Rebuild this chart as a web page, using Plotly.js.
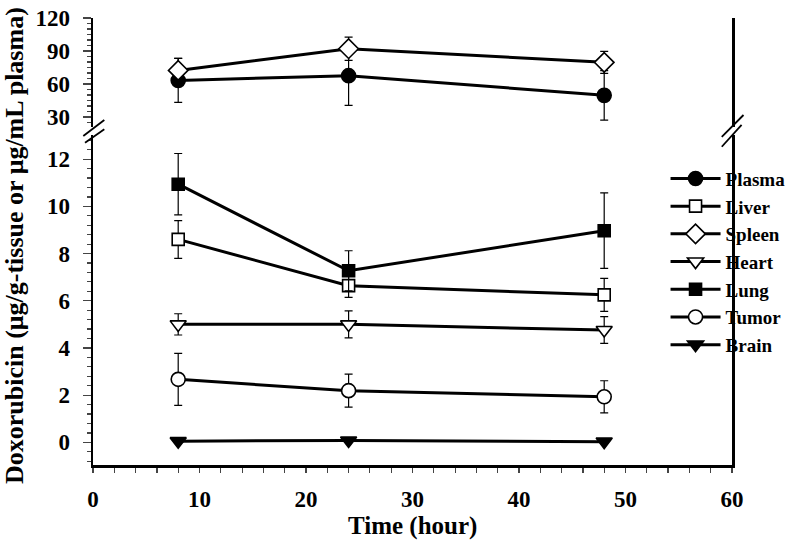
<!DOCTYPE html>
<html>
<head>
<meta charset="utf-8">
<script src="https://cdn.plot.ly/plotly-3.0.1.min.js"></script>
<style>html,body{margin:0;padding:0;background:#fff;}#chart{width:800px;height:551px;}</style>
</head>
<body>
<div id="chart"></div>
<script>
// ---- data ----
var timeHours = [8, 24, 48];
var seriesNames = ["Plasma", "Liver", "Spleen", "Heart", "Lung", "Tumor", "Brain"];
var plasma = [63.3, 67.6, 49.7];
var plasmaErr = [20, 27, 22.5];
var liver = [8.6, 6.64, 6.25];
var liverErr = [0.8, 0.5, 0.7];
var spleen = [72.4, 92.1, 79.7];
var spleenErr = [11, 10.6, 10];
var heart = [5.0, 5.0, 4.76];
var heartErr = [0.45, 0.57, 0.57];
var lung = [10.94, 7.27, 8.97];
var lungErr = [1.3, 0.85, 1.6];
var tumor = [2.67, 2.19, 1.93];
var tumorErr = [1.1, 0.7, 0.68];
var brain = [0.05, 0.08, 0.03];
var brainErr = [0.02, 0.02, 0.02];
var xTickVals = [0, 10, 20, 30, 40, 50, 60];
var upperTickVals = [30, 60, 90, 120];
var lowerTickVals = [0, 2, 4, 6, 8, 10, 12];

var FONT = "Liberation Serif, Times New Roman, serif";

function mk(name, y, err, axis, symbol, fill, size) {
  return {
    type: "scatter", mode: "lines+markers", name: name,
    x: timeHours, y: y, yaxis: axis, xaxis: "x",
    line: {color: "#000", width: 3},
    marker: {symbol: symbol, size: size, color: fill, line: {color: "#000", width: 1.6}},
    error_y: {type: "data", array: err, visible: true, color: "#000", thickness: 1.2, width: 4}
  };
}

var data = [
  mk(seriesNames[0], plasma, plasmaErr, "y2", "circle", "#000", 14),
  mk(seriesNames[1], liver, liverErr, "y", "square", "#fff", 12),
  mk(seriesNames[2], spleen, spleenErr, "y2", "diamond", "#fff", 15),
  mk(seriesNames[3], heart, heartErr, "y", "triangle-down", "#fff", 14),
  mk(seriesNames[4], lung, lungErr, "y", "square", "#000", 12),
  mk(seriesNames[5], tumor, tumorErr, "y", "circle", "#fff", 14),
  mk(seriesNames[6], brain, brainErr, "y", "triangle-down", "#000", 14)
];

var tickFont = {family: FONT, size: 23, color: "#000", weight: "bold"};
var lowerRange = [-0.96, 13.02];
var upperRange = [20.9, 120];
var upperDomain = [0.756, 1];
var lowerDomain = [0, 0.738];

var layout = {
  width: 800, height: 551,
  margin: {l: 93, r: 68, t: 18, b: 86, autoexpand: false},
  paper_bgcolor: "#fff", plot_bgcolor: "#fff",
  showlegend: true,
  font: {family: FONT, color: "#000"},
  xaxis: {
    range: [0, 60], tickvals: xTickVals, ticks: "outside", ticklen: 5, tickwidth: 1.2,
    minor: {dtick: 2, ticks: "outside", ticklen: 5, tickwidth: 1.2},
    showline: true, linewidth: 2.5, linecolor: "#000", mirror: false,
    showgrid: false, zeroline: false, tickfont: tickFont, ticklabelstandoff: 7,
    anchor: "y"
  },
  xaxis2: {
    range: [0, 60], overlaying: "x", anchor: "y", tickvals: xTickVals, ticks: "inside", ticklen: 5, tickwidth: 1.2,
    minor: {dtick: 2, ticks: "inside", ticklen: 5, tickwidth: 1.2},
    showticklabels: false, showgrid: false, zeroline: false, showline: false
  },
  yaxis: {
    domain: lowerDomain, range: lowerRange, tickvals: lowerTickVals,
    ticks: "outside", ticklen: 8, tickwidth: 1.2,
    minor: {dtick: 0.4, tick0: 0, ticks: "outside", ticklen: 4, tickwidth: 1.2},
    showline: true, linewidth: 2.5, linecolor: "#000", mirror: true,
    showgrid: false, zeroline: false, tickfont: tickFont, ticklabelstandoff: 8,
    anchor: "x"
  },
  yaxis3: {
    domain: lowerDomain, range: lowerRange, overlaying: "y", anchor: "x", tickvals: lowerTickVals,
    ticks: "inside", ticklen: 4, tickwidth: 1.2,
    minor: {dtick: 0.4, tick0: 0, ticks: "inside", ticklen: 4, tickwidth: 1.2},
    showticklabels: false, showgrid: false, zeroline: false, showline: false
  },
  yaxis2: {
    domain: upperDomain, range: upperRange, tickvals: upperTickVals,
    ticks: "outside", ticklen: 8, tickwidth: 1.2,
    minor: {dtick: 5, ticks: "outside", ticklen: 4, tickwidth: 1.2},
    showline: true, linewidth: 2.5, linecolor: "#000", mirror: true,
    showgrid: false, zeroline: false, tickfont: tickFont, ticklabelstandoff: 8,
    anchor: "x"
  },
  yaxis4: {
    domain: upperDomain, range: upperRange, overlaying: "y2", anchor: "x", tickvals: upperTickVals,
    ticks: "inside", ticklen: 4, tickwidth: 1.2,
    minor: {dtick: 5, ticks: "inside", ticklen: 4, tickwidth: 1.2},
    showticklabels: false, showgrid: false, zeroline: false, showline: false
  },
  legend: {
    x: 0.896, xanchor: "left", y: 0.455, yanchor: "middle",
    font: {family: FONT, size: 19, color: "#000", weight: "bold"},
    bgcolor: "rgba(0,0,0,0)", borderwidth: 0, itemwidth: 50, tracegroupgap: 0
  },
  annotations: [
    {text: "Doxorubicin (μg/g-tissue or μg/mL plasma)", xref: "paper", yref: "paper",
     x: -0.122, y: 0.49, xanchor: "center", yanchor: "middle", textangle: -90, showarrow: false,
     font: {family: FONT, size: 26, color: "#000", weight: "bold"}},
    {text: "Time (hour)", xref: "paper", yref: "paper",
     x: 0.5, y: -0.137, xanchor: "center", yanchor: "middle", showarrow: false,
     font: {family: FONT, size: 25, color: "#000", weight: "bold"}}
  ],
  shapes: [
    {type: "line", xref: "paper", yref: "paper", x0: -0.0152, y0: 0.736, x1: 0.0177, y1: 0.772, line: {color: "#000", width: 1.8}},
    {type: "line", xref: "paper", yref: "paper", x0: -0.0125, y0: 0.721, x1: 0.0177, y1: 0.751, line: {color: "#000", width: 1.8}},
    {type: "line", xref: "paper", yref: "paper", x0: 0.984, y0: 0.734, x1: 1.018, y1: 0.783, line: {color: "#000", width: 1.8}},
    {type: "line", xref: "paper", yref: "paper", x0: 0.984, y0: 0.712, x1: 1.015, y1: 0.761, line: {color: "#000", width: 1.8}}
  ]
};

Plotly.newPlot("chart", data, layout, {staticPlot: true, displayModeBar: false});
</script>
</body>
</html>
